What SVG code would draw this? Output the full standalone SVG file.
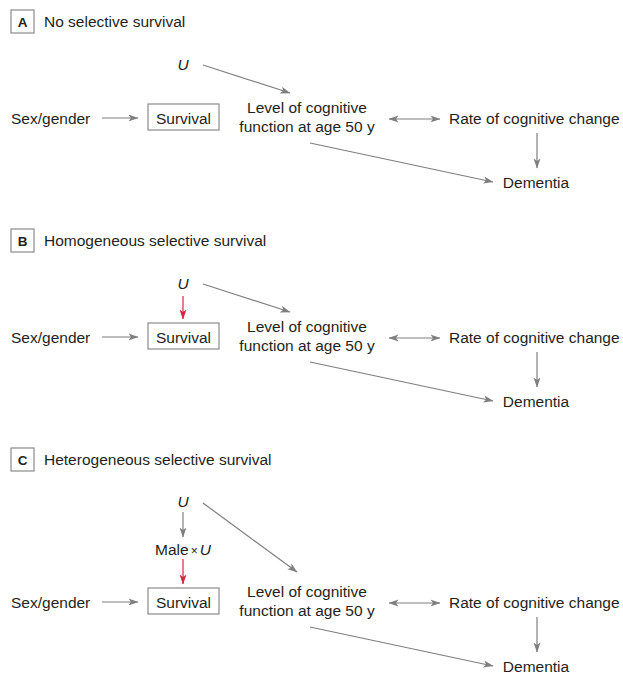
<svg xmlns="http://www.w3.org/2000/svg" width="623" height="675" viewBox="0 0 623 675">
<defs>
<marker id="ag" viewBox="0 0 10 8" refX="9.5" refY="4" markerWidth="10" markerHeight="8" markerUnits="userSpaceOnUse" orient="auto-start-reverse"><path d="M0,0.5 L10,4 L0,7.5 L2.5,4 z" fill="#7f7f7f"/></marker>
<marker id="ar" viewBox="0 0 10 8" refX="9.5" refY="4" markerWidth="10" markerHeight="8" markerUnits="userSpaceOnUse" orient="auto"><path d="M0,0.5 L10,4 L0,7.5 L2.5,4 z" fill="#d7263d"/></marker>
</defs>
<style>
text{font-family:"Liberation Sans",Arial,sans-serif;font-size:15.5px;fill:#231f20}
.c{text-anchor:middle}
.i{font-style:italic}
.lb{font-weight:bold;font-size:13.5px;text-anchor:middle}
.box{fill:#fff;stroke:#8a8a8a;stroke-width:1.2}
.g{stroke:#7f7f7f;stroke-width:1.2;fill:none;marker-end:url(#ag)}
.d{stroke:#7f7f7f;stroke-width:1.2;fill:none;marker-end:url(#ag);marker-start:url(#ag)}
.r{stroke:#d7263d;stroke-width:1.2;fill:none;marker-end:url(#ar)}
</style>
<rect width="623" height="675" fill="#fff"/>

<!-- Panel A -->
<g id="panelA">
<g id="A-label"><rect class="box" x="11" y="10" width="23" height="23"/><text class="lb" x="22.5" y="26.5">A</text><text x="44" y="27">No selective survival</text></g>
<g id="A-U"><text class="c i" x="183" y="70">U</text></g>
<g id="A-sex"><text x="11" y="124">Sex/gender</text></g>
<g id="A-survival"><rect class="box" x="148" y="104" width="71" height="26"/><text class="c" x="183.5" y="123.5">Survival</text></g>
<g id="A-level"><text class="c" x="307" y="113">Level of cognitive</text><text class="c" x="307" y="132">function at age 50 y</text></g>
<g id="A-rate"><text x="449" y="124">Rate of cognitive change</text></g>
<g id="A-dementia"><text class="c" x="536" y="188">Dementia</text></g>
<g id="A-connectors">
<line class="g" x1="203" y1="65" x2="290" y2="93"/>
<line class="g" x1="102" y1="118" x2="138" y2="118"/>
<line class="d" x1="389" y1="119" x2="440" y2="119"/>
<line class="g" x1="537" y1="133" x2="537" y2="168"/>
<line class="g" x1="310" y1="143" x2="493" y2="182"/>
</g>
</g>

<!-- Panel B -->
<g id="panelB" transform="translate(0,219)">
<g id="B-label"><rect class="box" x="11" y="10" width="23" height="23"/><text class="lb" x="22.5" y="26.5">B</text><text x="44" y="27">Homogeneous selective survival</text></g>
<g id="B-U"><text class="c i" x="183" y="70">U</text></g>
<g id="B-sex"><text x="11" y="124">Sex/gender</text></g>
<g id="B-survival"><rect class="box" x="148" y="104" width="71" height="26"/><text class="c" x="183.5" y="123.5">Survival</text></g>
<g id="B-level"><text class="c" x="307" y="113">Level of cognitive</text><text class="c" x="307" y="132">function at age 50 y</text></g>
<g id="B-rate"><text x="449" y="124">Rate of cognitive change</text></g>
<g id="B-dementia"><text class="c" x="536" y="188">Dementia</text></g>
<g id="B-connectors">
<line class="r" x1="183" y1="77" x2="183" y2="100"/>
<line class="g" x1="203" y1="65" x2="290" y2="93"/>
<line class="g" x1="102" y1="118" x2="138" y2="118"/>
<line class="d" x1="389" y1="119" x2="440" y2="119"/>
<line class="g" x1="537" y1="133" x2="537" y2="168"/>
<line class="g" x1="310" y1="143" x2="493" y2="182"/>
</g>
</g>

<!-- Panel C -->
<g id="panelC">
<g id="C-label"><rect class="box" x="11" y="448" width="23" height="23"/><text class="lb" x="22.5" y="464.5">C</text><text x="44" y="465">Heterogeneous selective survival</text></g>
<g id="C-U"><text class="c i" x="183" y="507">U</text></g>
<g id="C-maleU"><text class="c" x="183" y="555">Male<tspan font-size="12" dx="2">×</tspan><tspan class="i" dx="2">U</tspan></text></g>
<g id="C-sex"><text x="11" y="608">Sex/gender</text></g>
<g id="C-survival"><rect class="box" x="148" y="588" width="71" height="26"/><text class="c" x="183.5" y="607.5">Survival</text></g>
<g id="C-level"><text class="c" x="307" y="597">Level of cognitive</text><text class="c" x="307" y="616">function at age 50 y</text></g>
<g id="C-rate"><text x="449" y="608">Rate of cognitive change</text></g>
<g id="C-dementia"><text class="c" x="536" y="672">Dementia</text></g>
<g id="C-connectors">
<line class="g" x1="183" y1="512" x2="183" y2="537"/>
<line class="r" x1="183" y1="559" x2="183" y2="584"/>
<line class="g" x1="203" y1="503" x2="297" y2="572"/>
<line class="g" x1="102" y1="602" x2="138" y2="602"/>
<line class="d" x1="389" y1="603" x2="440" y2="603"/>
<line class="g" x1="537" y1="617" x2="537" y2="652"/>
<line class="g" x1="310" y1="627" x2="493" y2="666"/>
</g>
</g>
</svg>
